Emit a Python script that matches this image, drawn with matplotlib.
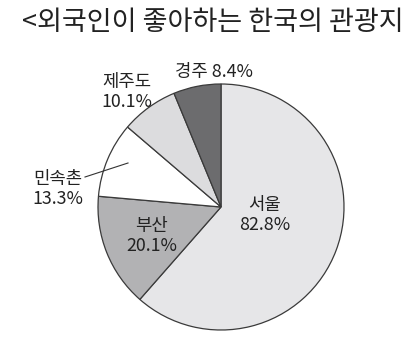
import matplotlib
matplotlib.use("Agg")
import matplotlib.pyplot as plt

plt.rcParams['font.family'] = ['Noto Sans CJK KR', 'DejaVu Sans']

# data: share of foreigners naming each place (multiple answers)
places = ["서울", "부산", "민속촌", "제주도", "경주"]
shares = [82.8, 20.1, 13.3, 10.1, 8.4]
title = "<외국인이 좋아하는 한국의 관광지"

colors = ["#e6e6e8", "#b2b2b4", "#ffffff", "#dcdcde", "#6c6c6e"]

W, H = 413, 343
fig = plt.figure(figsize=(W / 100, H / 100), dpi=100)
ax = fig.add_axes([0, 0, 1, 1])

cx, cy, r = 221, H - 207, 123
ax.pie(shares, colors=colors, startangle=90, counterclock=False,
       center=(cx, cy), radius=r, frame=True,
       wedgeprops=dict(edgecolor="#3a3a3a", linewidth=0.9))
ax.set_xlim(0, W)
ax.set_ylim(0, H)
ax.set_aspect("equal")
ax.axis("off")

# label positions in pixels (x, y from top)
label_pos = {
    "서울": (265, 215),
    "부산": (152, 236),
    "민속촌": (58, 189),
    "제주도": (127, 92),
}
tc = "#222222"
fs = 12.8
for name, val in zip(places, shares):
    txt = f"{val}%"
    if name == "경주":
        ax.text(214, H - 72, f"{name} {txt}", ha="center", va="center",
                fontsize=fs, color=tc)
        continue
    x, y = label_pos[name]
    ax.text(x, H - y, f"{name}\n{txt}", ha="center", va="center",
            fontsize=fs, color=tc, linespacing=1.1)

# leader line for 민속촌
ax.plot([85, 128], [H - 177, H - 163], color="#333333", lw=0.8)

fig.text(0.5 + 6 / W, 1 - 22 / H, title, ha="center", va="center",
         fontsize=19.5, color="#222222")

fig.savefig("out.png", dpi=100, facecolor="white")
